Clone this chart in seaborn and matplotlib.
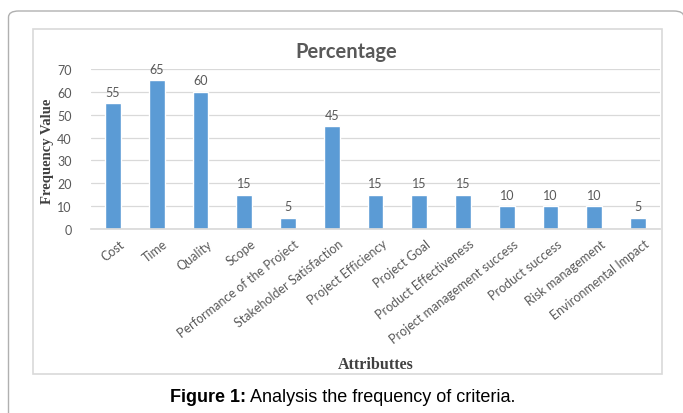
import matplotlib
matplotlib.use("Agg")
import matplotlib.pyplot as plt
import matplotlib.transforms as mtransforms
from matplotlib.patches import FancyBboxPatch, Rectangle
import seaborn as sns
import pandas as pd

attributes = ["Cost", "Time", "Quality", "Scope", "Performance of the Project",
              "Stakeholder Satisfaction", "Project Efficiency", "Project Goal",
              "Product Effectiveness", "Project management success",
              "Product success", "Risk management", "Environmental Impact"]
frequency = [55, 65, 60, 15, 5, 45, 15, 15, 15, 10, 10, 10, 5]
y_ticks = [0, 10, 20, 30, 40, 50, 60, 70]

df = pd.DataFrame({"Attribute": attributes, "Frequency": frequency})

sns.set_theme(style="white")
plt.rcParams["font.family"] = ["Lato", "DejaVu Sans"]

W, H = 683, 414
fig = plt.figure(figsize=(W / 100, H / 100), dpi=100)
fig.patch.set_facecolor("white")

# outer rounded frame (runs past the right and bottom edges)
fig.patches.append(FancyBboxPatch((8.5 / W, -0.1), (684 - 8.5) / W, (414 - 12) / H + 0.1,
                                  boxstyle="round,pad=0,rounding_size=0.015",
                                  transform=fig.transFigure, fill=False,
                                  edgecolor="#b0b0b0", linewidth=1.0))
# chart frame
fig.patches.append(Rectangle((33 / W, (H - 375) / H), (662 - 33) / W, (375 - 30) / H,
                             transform=fig.transFigure, fill=False,
                             edgecolor="#d9d9d9", linewidth=1.2))

ax = fig.add_axes([91 / W, (H - 230) / H, (660 - 91) / W, (230 - 70) / H])
sns.barplot(data=df, x="Attribute", y="Frequency", color="#5B9BD5",
            width=0.36, saturation=1, ax=ax)
ax.set_ylim(0, 70)
ax.set_yticks(y_ticks)
ax.set_xlim(-0.5, len(attributes) - 0.5)
ax.yaxis.grid(True, color="#d9d9d9", linewidth=0.9)
ax.set_axisbelow(True)
for s in ["top", "right", "left"]:
    ax.spines[s].set_visible(False)
ax.spines["bottom"].set_color("#d9d9d9")
ax.tick_params(axis="y", length=0, colors="#595959", labelsize=9, pad=14)
ax.tick_params(axis="x", length=0, colors="#595959", labelsize=9, pad=6)
ax.set_xticks(range(len(attributes)))
ax.set_xticklabels(attributes, rotation=38, ha="right", rotation_mode="anchor")
shift = mtransforms.ScaledTranslation(6 / 100, 0, fig.dpi_scale_trans)
for lbl in ax.get_xticklabels():
    lbl.set_transform(lbl.get_transform() + shift)
ax.set_xlabel("")
ax.set_ylabel("")

for i, v in enumerate(frequency):
    ax.annotate(str(v), (i, v), xytext=(0, 4), textcoords="offset points",
                ha="center", va="bottom", fontsize=9, color="#595959")

fig.text(346 / W, 1 - 52 / H, "Percentage", ha="center", va="center",
         fontsize=14.5, fontweight="bold", color="#595959")
fig.text(47 / W, 1 - 151 / H, "Frequency Value", rotation=90, ha="center",
         va="center", fontsize=10.5, fontweight="bold", color="#404040",
         family=["Liberation Serif", "DejaVu Serif"])
fig.text(376 / W, 1 - 365 / H, "Attributtes", ha="center", va="center",
         fontsize=11.5, fontweight="bold", color="#404040",
         family=["Liberation Serif", "DejaVu Serif"])

cap_y = 1 - 398 / H
t1 = fig.text(170 / W, cap_y, "Figure 1:", ha="left", va="center", fontsize=13,
              fontweight="bold", color="black", family=["Liberation Sans", "DejaVu Sans"])
fig.canvas.draw()
bb = t1.get_window_extent()
fig.text(bb.x1 / W + 4 / W, cap_y, "Analysis the frequency of criteria.", ha="left",
         va="center", fontsize=13, color="black",
         family=["Liberation Sans", "DejaVu Sans"])

fig.savefig("out.png", dpi=100)
